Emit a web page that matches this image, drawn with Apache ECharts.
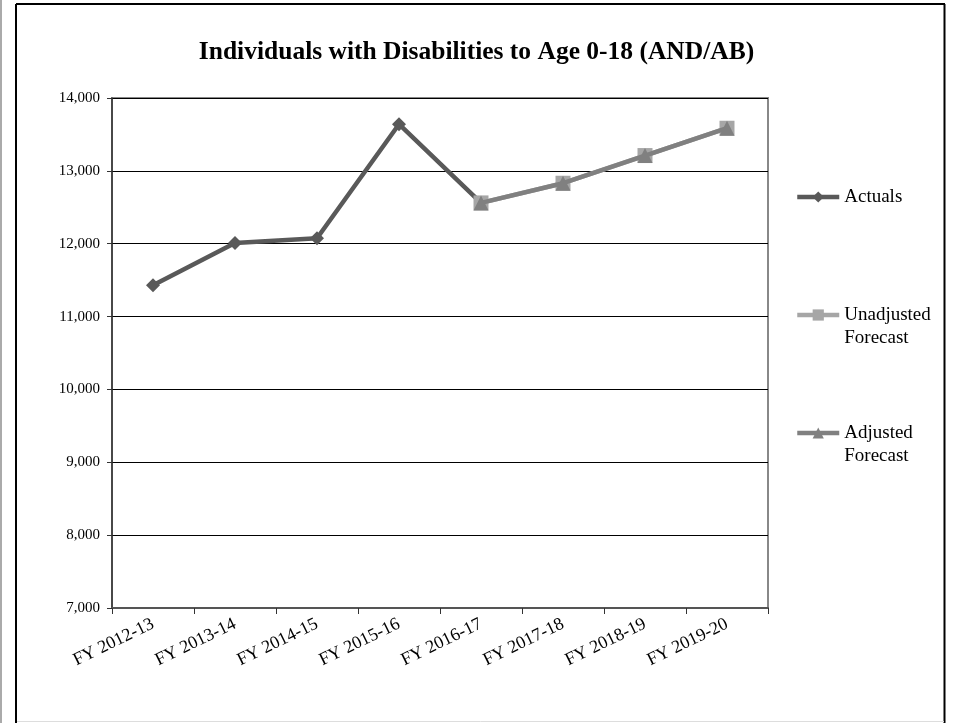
<!DOCTYPE html>
<html>
<head>
<meta charset="utf-8">
<script src="https://cdn.jsdelivr.net/npm/echarts@6/dist/echarts.min.js"></script>
<style>
html,body{margin:0;padding:0;background:#fff;}
#chart{width:953px;height:723px;}
</style>
</head>
<body>
<div id="chart"></div>
<script>
var categories = ['FY 2012-13','FY 2013-14','FY 2014-15','FY 2015-16','FY 2016-17','FY 2017-18','FY 2018-19','FY 2019-20'];
var actuals = [11430, 12010, 12075, 13640, 12560, null, null, null];
var unadjustedForecast = [null, null, null, null, 12560, 12830, 13210, 13585];
var adjustedForecast = [null, null, null, null, 12560, 12830, 13210, 13585];
var titleText = 'Individuals with Disabilities to Age 0-18 (AND/AB)';

var serif = '"Liberation Serif", "Times New Roman", serif';
var chart = echarts.init(document.getElementById('chart'), null, {renderer:'canvas'});

var legendText = {fontFamily: serif, fontSize: 19, color: '#000', lineHeight: 23};
var legendCommon = {left: 795, padding: 0, itemWidth: 42, itemHeight: 14, lineStyle: {width: 4.5}};

chart.setOption({
  animation: false,
  backgroundColor: '#fff',
  title: {
    text: titleText,
    left: 'center',
    top: 34,
    textStyle: {fontFamily: serif, fontWeight: 'bold', fontSize: 25.5, color: '#000'}
  },
  graphic: [
    {type: 'rect', shape: {x: 0, y: 0, width: 2, height: 723}, style: {fill: '#aaa'}},
    {type: 'line', shape: {x1: 16, y1: 4, x2: 945, y2: 4}, style: {stroke: '#000', lineWidth: 2}},
    {type: 'line', shape: {x1: 16, y1: 4, x2: 16, y2: 723}, style: {stroke: '#000', lineWidth: 2}},
    {type: 'line', shape: {x1: 944.5, y1: 4, x2: 944.5, y2: 723}, style: {stroke: '#000', lineWidth: 2}},
    {type: 'line', shape: {x1: 17, y1: 721.5, x2: 944, y2: 721.5}, style: {stroke: '#ddd', lineWidth: 1}}
  ],
  legend: [
    Object.assign({data: ['Actuals'], top: 185.5, textStyle: legendText}, legendCommon),
    Object.assign({data: ['Unadjusted Forecast'], top: 280.5,
      formatter: function () { return '\nUnadjusted\nForecast'; }, textStyle: legendText}, legendCommon),
    Object.assign({data: ['Adjusted Forecast'], top: 398.5,
      formatter: function () { return '\nAdjusted\nForecast'; }, textStyle: legendText}, legendCommon)
  ],
  grid: {left: 112, right: 185, top: 98, bottom: 115, show: true, borderColor: '#888', borderWidth: 2, containLabel: false},
  xAxis: {
    type: 'category',
    data: categories,
    boundaryGap: true,
    axisLine: {show: true, lineStyle: {color: '#555', width: 2}},
    axisTick: {show: true, alignWithLabel: false, length: 6, lineStyle: {color: '#333'}},
    axisLabel: {rotate: 26, margin: 15, fontFamily: serif, fontSize: 18, color: '#000', interval: 0},
    splitLine: {show: false}
  },
  yAxis: {
    type: 'value',
    min: 7000, max: 14000, interval: 1000,
    axisLine: {show: true, lineStyle: {color: '#333', width: 1.5}},
    axisTick: {show: true, inside: false, length: 5, lineStyle: {color: '#333'}},
    axisLabel: {margin: 12, fontFamily: serif, fontSize: 15, color: '#000',
      formatter: function (v) { return v.toLocaleString('en-US'); }},
    splitLine: {show: true, lineStyle: {color: '#000', width: 1}}
  },
  series: [
    {name: 'Actuals', type: 'line', data: actuals, symbol: 'diamond', symbolSize: 14,
     itemStyle: {color: '#595959'}, lineStyle: {color: '#595959', width: 4.5}, z: 2},
    {name: 'Unadjusted Forecast', type: 'line', data: unadjustedForecast, symbol: 'rect', symbolSize: 15,
     itemStyle: {color: '#a6a6a6'}, lineStyle: {color: '#a6a6a6', width: 4.5}, z: 3},
    {name: 'Adjusted Forecast', type: 'line', data: adjustedForecast, symbol: 'triangle', symbolSize: 15,
     itemStyle: {color: '#808080'}, lineStyle: {color: '#808080', width: 4.5}, z: 4}
  ]
});
</script>
</body>
</html>
